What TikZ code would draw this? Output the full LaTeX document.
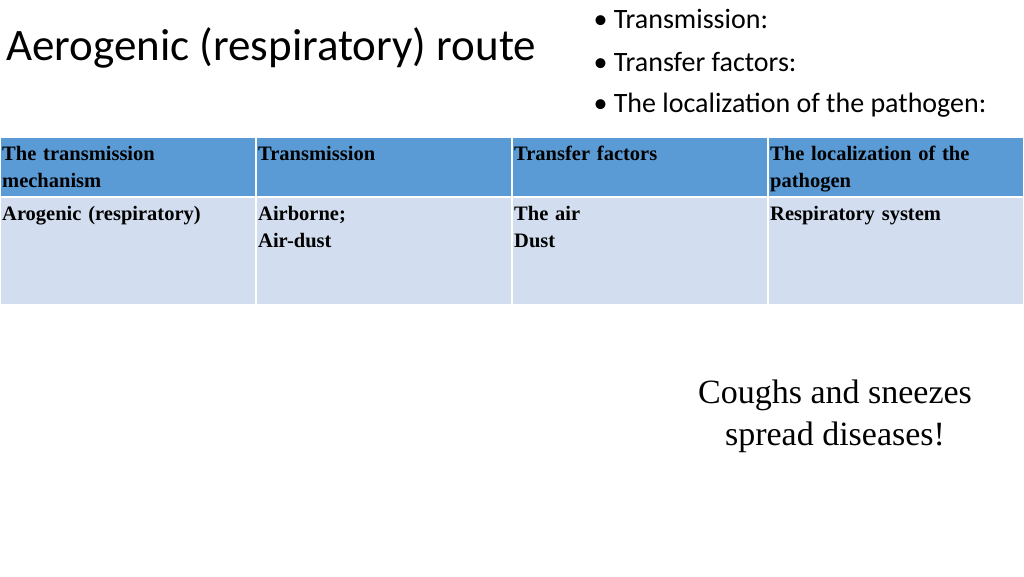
\documentclass[tikz,border=0pt]{standalone}
\usepackage{fontspec}
\setmainfont{Liberation Serif}
\newfontfamily\calibri{Carlito}
\usetikzlibrary{positioning}
\definecolor{headblue}{RGB}{91,155,213}
\definecolor{cellblue}{RGB}{210,222,239}
\tikzset{
  headcell/.style={fill=headblue, draw=white, line width=1.5pt},
  bodycell/.style={fill=cellblue, draw=white, line width=1.5pt},
  celltext/.style={anchor=north west, inner sep=2pt, align=left, text width=250pt,
    font=\fontsize{20.5}{27}\selectfont\bfseries},
  bullet/.style={anchor=west, font=\calibri\fontsize{28}{30}\selectfont}
}
\begin{document}
\begin{tikzpicture}[x=1pt, y=-1pt]
  \useasboundingbox (0,0) rectangle (1024,576);
  % Title
  \node[anchor=west, inner sep=0pt, font=\calibri\fontsize{45}{48}\selectfont] (title) at (6,48) {Aerogenic (respiratory) route};
  % Bullets
  \node[bullet] (b1) at (590,19) {\textbullet\ Transmission:};
  \node[bullet] (b2) at (590,62) {\textbullet\ Transfer factors:};
  \node[bullet] (b3) at (590,105) {\textbullet\ The localization of the pathogen:};
  % Table
  \foreach \i in {0,1,2,3} {
    \filldraw[headcell] (256*\i,137) rectangle (256*\i+256,197);
    \filldraw[bodycell] (256*\i,197) rectangle (256*\i+256,305);
  }
  \node[celltext] (h1) at (0,144) {The transmission\\mechanism};
  \node[celltext] (h2) at (256,144) {Transmission};
  \node[celltext] (h3) at (512,144) {Transfer factors};
  \node[celltext] (h4) at (768,144) {The localization of the\\pathogen};
  \node[celltext] (c1) at (0,204) {Arogenic (respiratory)};
  \node[celltext] (c2) at (256,204) {Airborne;\\Air-dust};
  \node[celltext] (c3) at (512,204) {The air\\Dust};
  \node[celltext] (c4) at (768,204) {Respiratory system};
  % Note
  \node[align=center, font=\fontsize{34}{42}\selectfont] (note) at (835,416) {Coughs and sneezes\\spread diseases!};
\end{tikzpicture}
\end{document}
